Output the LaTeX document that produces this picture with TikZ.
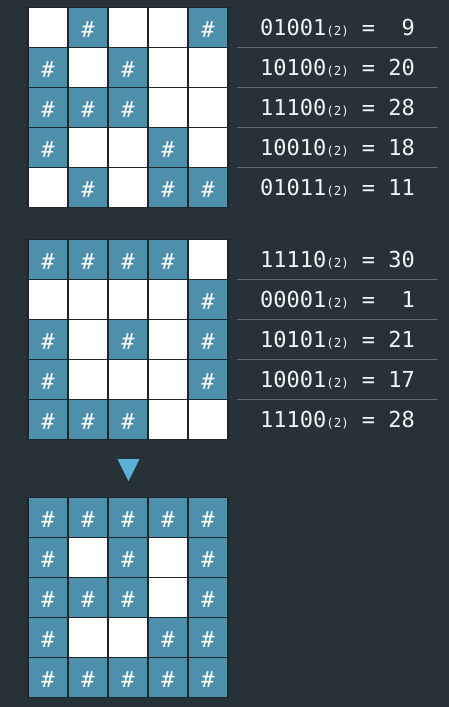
\documentclass[tikz,border=0pt]{standalone}
\usepackage{fontspec}
\newfontfamily\monofont{DejaVu Sans Mono}
\definecolor{bgc}{HTML}{263238}
\definecolor{teal}{HTML}{4E8FAB}
\definecolor{gridc}{HTML}{1D262B}
\definecolor{sepc}{HTML}{5E686D}
\definecolor{tric}{HTML}{5BB0D8}
\definecolor{txtc}{HTML}{F2F4F5}
\tikzset{
  cellbox/.style={draw=gridc, line width=1.2pt, minimum size=40pt, inner sep=0pt, outer sep=0pt},
  cellon/.style={cellbox, fill=teal},
  celloff/.style={cellbox, fill=white},
  hashmark/.style={text=white, inner sep=0pt, font=\monofont\fontsize{22}{22}\selectfont},
  bintext/.style={text=txtc, inner sep=0pt, font=\monofont\fontsize{22}{22}\selectfont},
  seprule/.style={draw=sepc, line width=1pt},
}
\newcommand{\subtwo}{{\fontsize{12.5}{12.5}\selectfont(2)}}
\begin{document}
\begin{tikzpicture}[x=1pt,y=-1pt]
\fill[bgc] (0,0) rectangle (449,707);
\useasboundingbox (0,0) rectangle (449,707);
% grids
\foreach \g/\top/\rows in {
  1/7.3/{{0,1,0,0,1},{1,0,1,0,0},{1,1,1,0,0},{1,0,0,1,0},{0,1,0,1,1}},
  2/239.3/{{1,1,1,1,0},{0,0,0,0,1},{1,0,1,0,1},{1,0,0,0,1},{1,1,1,0,0}},
  3/497.3/{{1,1,1,1,1},{1,0,1,0,1},{1,1,1,0,1},{1,0,0,1,1},{1,1,1,1,1}}}{
  \foreach \row [count=\r from 0] in \rows {
    \foreach \b [count=\c from 0] in \row {
      \ifnum\b=1
        \node[cellon] (g\g-\r-\c) at ({48+40*\c},{\top+20+40*\r}) {};
        \node[hashmark, yshift=-2pt] (h\g-\r-\c) at (g\g-\r-\c.center) {\#};
      \else
        \node[celloff] (g\g-\r-\c) at ({48+40*\c},{\top+20+40*\r}) {};
      \fi
    }
  }
}
% binary texts
\foreach \g/\top/\list in {
  1/7.3/{01001/9,10100/20,11100/28,10010/18,01011/11},
  2/239.3/{11110/30,00001/1,10101/21,10001/17,11100/28}}{
  \foreach \bits/\num [count=\r from 0] in \list {
    \node[bintext, anchor=base west] (b\g-\r) at (260,{\top+28.4+40*\r}) {\bits\subtwo};
    \node[bintext, anchor=base] (e\g-\r) at (368.5,{\top+28.4+40*\r}) {=};
    \node[bintext, anchor=base east] (n\g-\r) at (415,{\top+28.4+40*\r}) {\num};
  }
  \foreach \k in {1,2,3,4}{
    \draw[seprule] (237,{\top+40*\k}) -- (437,{\top+40*\k});
  }
}
% arrow triangle
\fill[tric] (117.5,459) -- (139.5,459) -- (128.5,481) -- cycle;
\end{tikzpicture}
\end{document}
